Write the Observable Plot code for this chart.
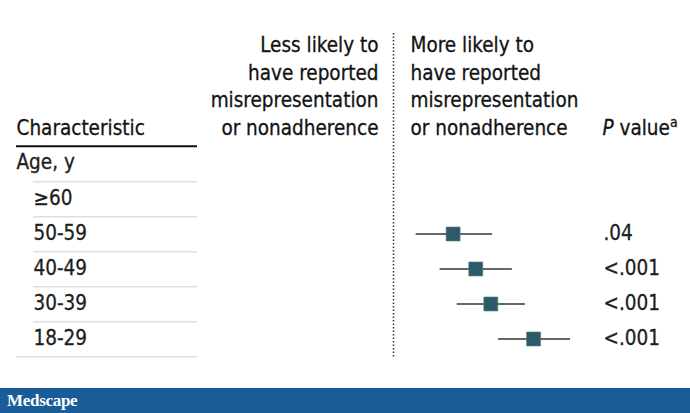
<!DOCTYPE html>
<html><head><meta charset="utf-8">
<script src="https://cdn.jsdelivr.net/npm/d3@7"></script>
<script src="https://cdn.jsdelivr.net/npm/@observablehq/plot@0.6"></script>
<style>
body{margin:0;background:#fff;font-family:"DejaVu Sans Condensed",sans-serif;}
#wrap{width:690px;height:413px;position:relative;overflow:hidden;background:#fff}
#chart svg{display:block}
#chart svg text{stroke:currentColor;stroke-width:0.3px}
#footer{position:absolute;left:0;top:388px;width:690px;height:25px;background:#195d98;color:#fff;font-family:"Liberation Serif",serif;font-size:17px;line-height:25px;padding-left:7px;box-sizing:border-box;letter-spacing:-0.3px;font-weight:bold}
</style></head><body><div id="wrap"><div id="chart"></div><div id="footer">Medscape</div></div>
<script>
// ---- data ----
const rows = ["Age, y", "≥60", "50-59", "40-49", "30-39", "18-29"];
const estGroups = ["50-59", "40-49", "30-39", "18-29"];
const oddsRatio = [1.58, 1.88, 2.11, 2.93];
const ciLow = [1.19, 1.43, 1.63, 2.24];
const ciHigh = [2.14, 2.49, 2.75, 3.89];
const pValues = [".04", "<.001", "<.001", "<.001"];
const headerLess = "Less likely to\nhave reported\nmisrepresentation\nor nonadherence";
const headerMore = "More likely to\nhave reported\nmisrepresentation\nor nonadherence";
const headerChar = "Characteristic";
const headerP = "P value";

const est = estGroups.map((g, i) => ({group: g, or: oddsRatio[i], lo: ciLow[i], hi: ciHigh[i], p: pValues[i]}));

const W = 690, H = 388, mL = 393, mR = 101, mT = 144, mB = 30;
const band = (H - mT - mB) / rows.length;
const ink = "#1e1e1e";

const plot = Plot.plot({
  width: W, height: H,
  marginLeft: mL, marginRight: mR, marginTop: mT, marginBottom: mB,
  style: {fontFamily: "'DejaVu Sans Condensed', sans-serif", fontSize: "20.5px", color: ink, background: "#fff", overflow: "visible"},
  x: {type: "log", domain: [1, 4.5], axis: null},
  y: {type: "band", domain: rows, padding: 0, axis: null},
  marks: [
    // thick header rule
    Plot.ruleY([rows[0]], {y: d => d, dy: -band / 2, stroke: "#111", strokeWidth: 2, insetLeft: 16 - mL, insetRight: (W - mR) - 197}),
    // row separators (indented)
    Plot.ruleY(rows.slice(0, -1), {y: d => d, dy: band / 2, stroke: "#cfcfcf", strokeWidth: 1, insetLeft: 33 - mL, insetRight: (W - mR) - 197}),
    // final separator
    Plot.ruleY(rows.slice(-1), {y: d => d, dy: band / 2, stroke: "#cfcfcf", strokeWidth: 1, insetLeft: 16 - mL, insetRight: (W - mR) - 197}),
    // null line
    Plot.ruleX([1], {stroke: "#333", strokeWidth: 1.5, strokeDasharray: "1.5,2", insetTop: 33 - mT}),
    // CIs
    Plot.ruleY(est, {y: "group", x1: "lo", x2: "hi", stroke: "#333", strokeWidth: 1.5}),
    // point estimates
    Plot.dot(est, {x: "or", y: "group", symbol: "square", r: 7.9, fill: "#2d5a67", stroke: "#5d7f8a", strokeWidth: 0.6}),
    // row labels
    Plot.text(rows.slice(0, 1), {y: d => d, text: d => d, frameAnchor: "left", textAnchor: "start", dx: 16 - mL, dy: -2, fill: ink}),
    Plot.text(rows.slice(1), {y: d => d, text: d => d, frameAnchor: "left", textAnchor: "start", dx: 33 - mL, dy: -1, fill: ink}),
    // p values
    Plot.text(est, {y: "group", text: "p", frameAnchor: "right", textAnchor: "start", dx: 14, dy: -1, fill: ink}),
    // headers
    Plot.text([headerChar], {text: d => d, frameAnchor: "top-left", textAnchor: "start", lineAnchor: "bottom", dx: 16 - mL, dy: -10, fill: "#111"}),
    Plot.text([headerLess], {text: d => d, frameAnchor: "top-left", textAnchor: "end", lineAnchor: "bottom", lineHeight: 1.34, dx: -15, dy: -10, fill: "#111"}),
    Plot.text([headerMore], {text: d => d, frameAnchor: "top-left", textAnchor: "start", lineAnchor: "bottom", lineHeight: 1.34, dx: 17, dy: -10, fill: "#111"}),
    Plot.text([headerP], {text: d => d, frameAnchor: "top-right", textAnchor: "start", lineAnchor: "bottom", dx: 13, dy: -10, fill: "#111"})
  ]
});
document.getElementById("chart").appendChild(plot);

// italic P and superscript a
d3.select(plot).selectAll("text").filter(function () { return this.textContent === headerP; }).each(function () {
  const t = d3.select(this);
  t.text(null);
  t.append("tspan").attr("font-style", "italic").text(headerP.slice(0, 1));
  t.append("tspan").text(headerP.slice(1));
  t.append("tspan").attr("font-size", "14px").attr("dy", "-0.55em").text("a");
});
</script>
</body></html>
